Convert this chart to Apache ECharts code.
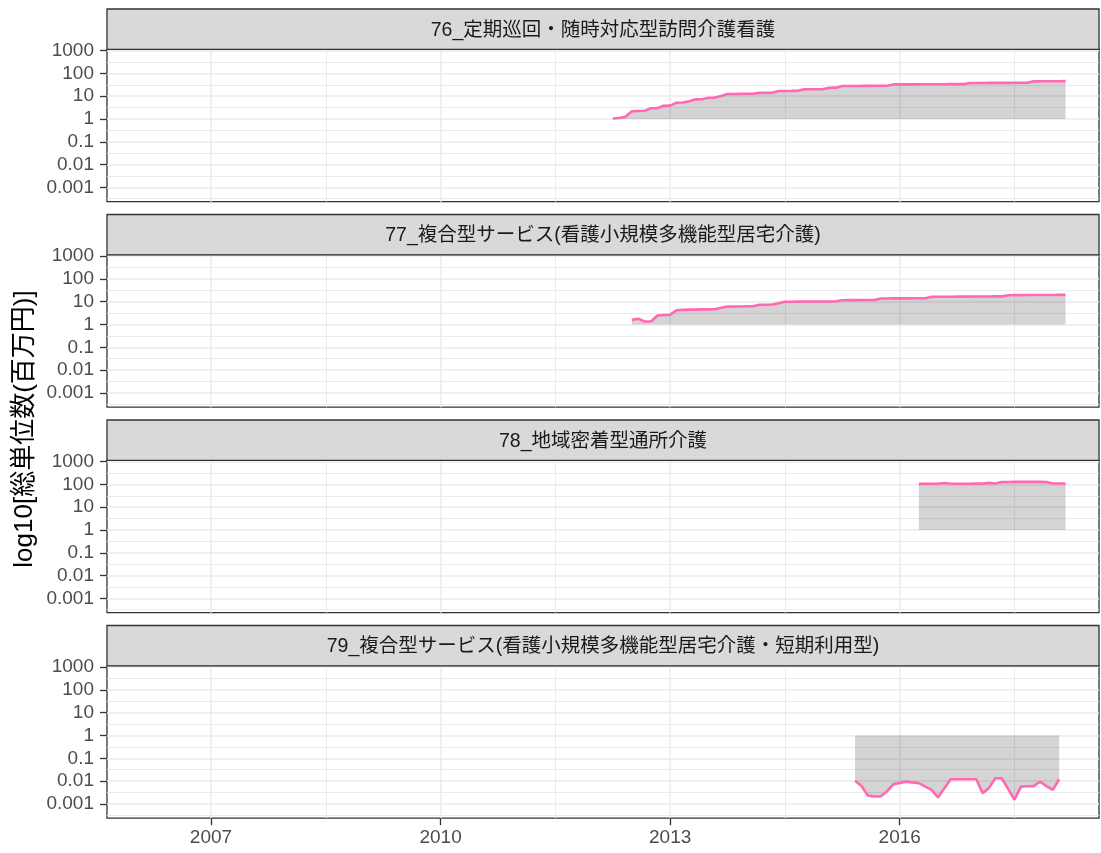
<!DOCTYPE html>
<html>
<head>
<meta charset="utf-8">
<script src="https://cdn.jsdelivr.net/npm/echarts@6/dist/echarts.min.js"></script>
<style>
  html, body { margin: 0; padding: 0; background: #fff; }
  #chart { width: 1101px; height: 853px; }
</style>
</head>
<body>
<div id="chart"></div>
<script>
// facet labels
const panelTitles = [
  "76_定期巡回・随時対応型訪問介護看護",
  "77_複合型サービス(看護小規模多機能型居宅介護)",
  "78_地域密着型通所介護",
  "79_複合型サービス(看護小規模多機能型居宅介護・短期利用型)"
];
// first month of each series [year, month]
const panelStart = [[2012, 4], [2012, 7], [2016, 4], [2015, 6]];

// 総単位数 (百万円), monthly
const vals76 = [1.05, 1.1, 1.25, 2.2, 2.25, 2.3, 2.95, 3.0, 3.8, 3.85, 5.2, 5.3,
  6.0, 7.3, 7.4, 8.6, 8.7, 10.2, 12.5, 12.6, 12.7, 12.8, 12.9, 14.0,
  14.1, 14.3, 16.9, 17.0, 17.1, 17.3, 20.0, 20.2, 20.4, 20.6, 23.6, 23.8,
  28.0, 28.1, 28.3, 28.4, 28.6, 28.7, 28.9, 29.0, 33.0, 33.1, 33.2, 33.3,
  33.4, 33.5, 33.6, 33.7, 33.8, 33.9, 34.0, 34.1, 38.0, 38.2, 38.3, 38.4,
  38.5, 38.6, 38.7, 38.8, 38.9, 39.0, 45.0, 45.2, 45.4, 45.6, 45.8, 46.0];
const vals77 = [1.6, 1.8, 1.35, 1.35, 2.5, 2.6, 2.7, 4.2, 4.4, 4.5, 4.5, 4.6,
  4.6, 4.7, 5.4, 6.1, 6.2, 6.2, 6.3, 6.3, 7.3, 7.4, 7.5, 8.6,
  10.0, 10.0, 10.1, 10.1, 10.2, 10.2, 10.3, 10.3, 10.4, 11.7, 11.8, 11.8,
  11.9, 12.0, 12.0, 13.8, 13.9, 14.0, 14.0, 14.1, 14.2, 14.2, 14.3, 16.4,
  16.5, 16.5, 16.6, 16.7, 16.8, 16.8, 16.9, 17.0, 17.0, 17.1, 17.2, 19.4,
  19.5, 19.5, 19.6, 19.6, 19.7, 19.8, 19.8, 19.9, 20.0];
const vals78 = [106, 107, 107, 108, 116, 108, 108, 108, 108, 109, 109, 117,
  110, 128, 129, 130, 130, 130, 130, 130, 128, 110, 111, 110];
const vals79 = [0.0104, 0.0061, 0.0023, 0.0021, 0.0021, 0.0035, 0.0072, 0.0083,
  0.0094, 0.0087, 0.0081, 0.0057, 0.0041, 0.0019, 0.0048, 0.012, 0.012, 0.012,
  0.012, 0.012, 0.0029, 0.005, 0.0133, 0.0133, 0.0045, 0.0015, 0.0057, 0.0059,
  0.006, 0.0094, 0.006, 0.0041, 0.012];
const panelValues = [vals76, vals77, vals78, vals79];

// axes (y is log10 of the value)
const yTickValues = [-3, -2, -1, 0, 1, 2, 3];
const yTickLabels = ["0.001", "0.01", "0.1", "1", "10", "100", "1000"];
const yMinorValues = [-3.5, -2.5, -1.5, -0.5, 0.5, 1.5, 2.5];
const xTickValues = [2007, 2010, 2013, 2016];
const xMinorValues = [2008.5, 2011.5, 2014.5, 2017.5];

const X_MIN = 2005.641, X_MAX = 2018.604;
const Y_MIN = -3.632, Y_MAX = 3.061;

const LEFT = 107, WIDTH = 992;
const STRIP_H = 40.3, PLOT_H = 152.4, STEP = 205.5, TOP0 = 9;
const lineColor = "#FF69B4";
const latin = "'Liberation Sans', Arial, 'Noto Sans CJK JP', sans-serif";

const toPoints = (start, vals) => vals.map((v, i) => {
  const m = start[1] - 1 + i;
  return [start[0] + m / 12, Math.log10(v)];
});

const grids = [], xAxes = [], yAxes = [], series = [], graphics = [];
panelTitles.forEach((title, k) => {
  const stripTop = TOP0 + STEP * k;
  const isLast = k === panelTitles.length - 1;
  grids.push({
    left: LEFT, width: WIDTH, top: stripTop + STRIP_H, height: PLOT_H,
    show: true, borderColor: "#333333", borderWidth: 1.3, backgroundColor: "#fff"
  });
  // main x axis
  xAxes.push({
    gridIndex: k, type: "value", min: X_MIN, max: X_MAX, position: "bottom",
    axisLine: { show: false, onZero: false },
    axisTick: { show: isLast, length: 7, customValues: xTickValues, lineStyle: { color: "#333333", width: 1.3 } },
    axisLabel: {
      show: isLast, customValues: xTickValues, margin: 10, color: "#4D4D4D", fontSize: 19, fontFamily: latin,
      formatter: (v) => String(Math.round(v))
    },
    splitLine: { show: true, lineStyle: { color: "#EBEBEB", width: 1.5 } }
  });
  // minor x grid lines
  xAxes.push({
    gridIndex: k, type: "value", min: X_MIN, max: X_MAX, position: "top",
    axisLine: { show: false, onZero: false },
    axisTick: { show: false, customValues: xMinorValues },
    axisLabel: { show: false },
    splitLine: { show: true, lineStyle: { color: "#EBEBEB", width: 1 } }
  });
  yAxes.push({
    gridIndex: k, type: "value", min: Y_MIN, max: Y_MAX, position: "left",
    axisLine: { show: false, onZero: false },
    axisTick: { show: true, length: 7, customValues: yTickValues, lineStyle: { color: "#333333", width: 1.3 } },
    axisLabel: {
      customValues: yTickValues, margin: 13, color: "#4D4D4D", fontSize: 19, fontFamily: latin,
      formatter: (v) => yTickLabels[yTickValues.indexOf(Math.round(v))]
    },
    splitLine: { show: true, lineStyle: { color: "#EBEBEB", width: 1.5 } }
  });
  yAxes.push({
    gridIndex: k, type: "value", min: Y_MIN, max: Y_MAX, position: "right",
    axisLine: { show: false, onZero: false },
    axisTick: { show: false, customValues: yMinorValues },
    axisLabel: { show: false },
    splitLine: { show: true, lineStyle: { color: "#EBEBEB", width: 1 } }
  });

  const pts = toPoints(panelStart[k], panelValues[k]);
  // ribbon between 1 and the value
  series.push({
    type: "line", xAxisIndex: 2 * k, yAxisIndex: 2 * k, data: pts,
    symbol: "none", silent: true, z: 2,
    lineStyle: { width: 0, opacity: 0 },
    areaStyle: { color: "rgba(0,0,0,0.17)", opacity: 1 }
  });
  series.push({
    type: "line", xAxisIndex: 2 * k, yAxisIndex: 2 * k, data: pts,
    symbol: "none", z: 3,
    lineStyle: { color: lineColor, width: 2.6 }
  });

  // facet strip
  graphics.push({
    type: "rect", z: 10,
    shape: { x: LEFT, y: stripTop, width: WIDTH, height: STRIP_H },
    style: { fill: "#D9D9D9", stroke: "#333333", lineWidth: 1.3 }
  });
  graphics.push({
    type: "text", z: 11,
    style: {
      text: title, x: LEFT + WIDTH / 2, y: stripTop + STRIP_H / 2 + 1,
      align: "center", verticalAlign: "middle",
      fill: "#1A1A1A", font: "19.5px " + latin
    }
  });
});

// shared y title
graphics.push({
  type: "text", z: 11, x: 25, y: 429, rotation: Math.PI / 2,
  style: {
    text: "log10[総単位数(百万円)]", x: 0, y: 0,
    align: "center", verticalAlign: "middle",
    fill: "#000000", font: "26px " + latin
  }
});

const chart = echarts.init(document.getElementById("chart"));
chart.setOption({
  animation: false,
  backgroundColor: "#ffffff",
  grid: grids,
  xAxis: xAxes,
  yAxis: yAxes,
  series: series,
  graphic: graphics
});
</script>
</body>
</html>
